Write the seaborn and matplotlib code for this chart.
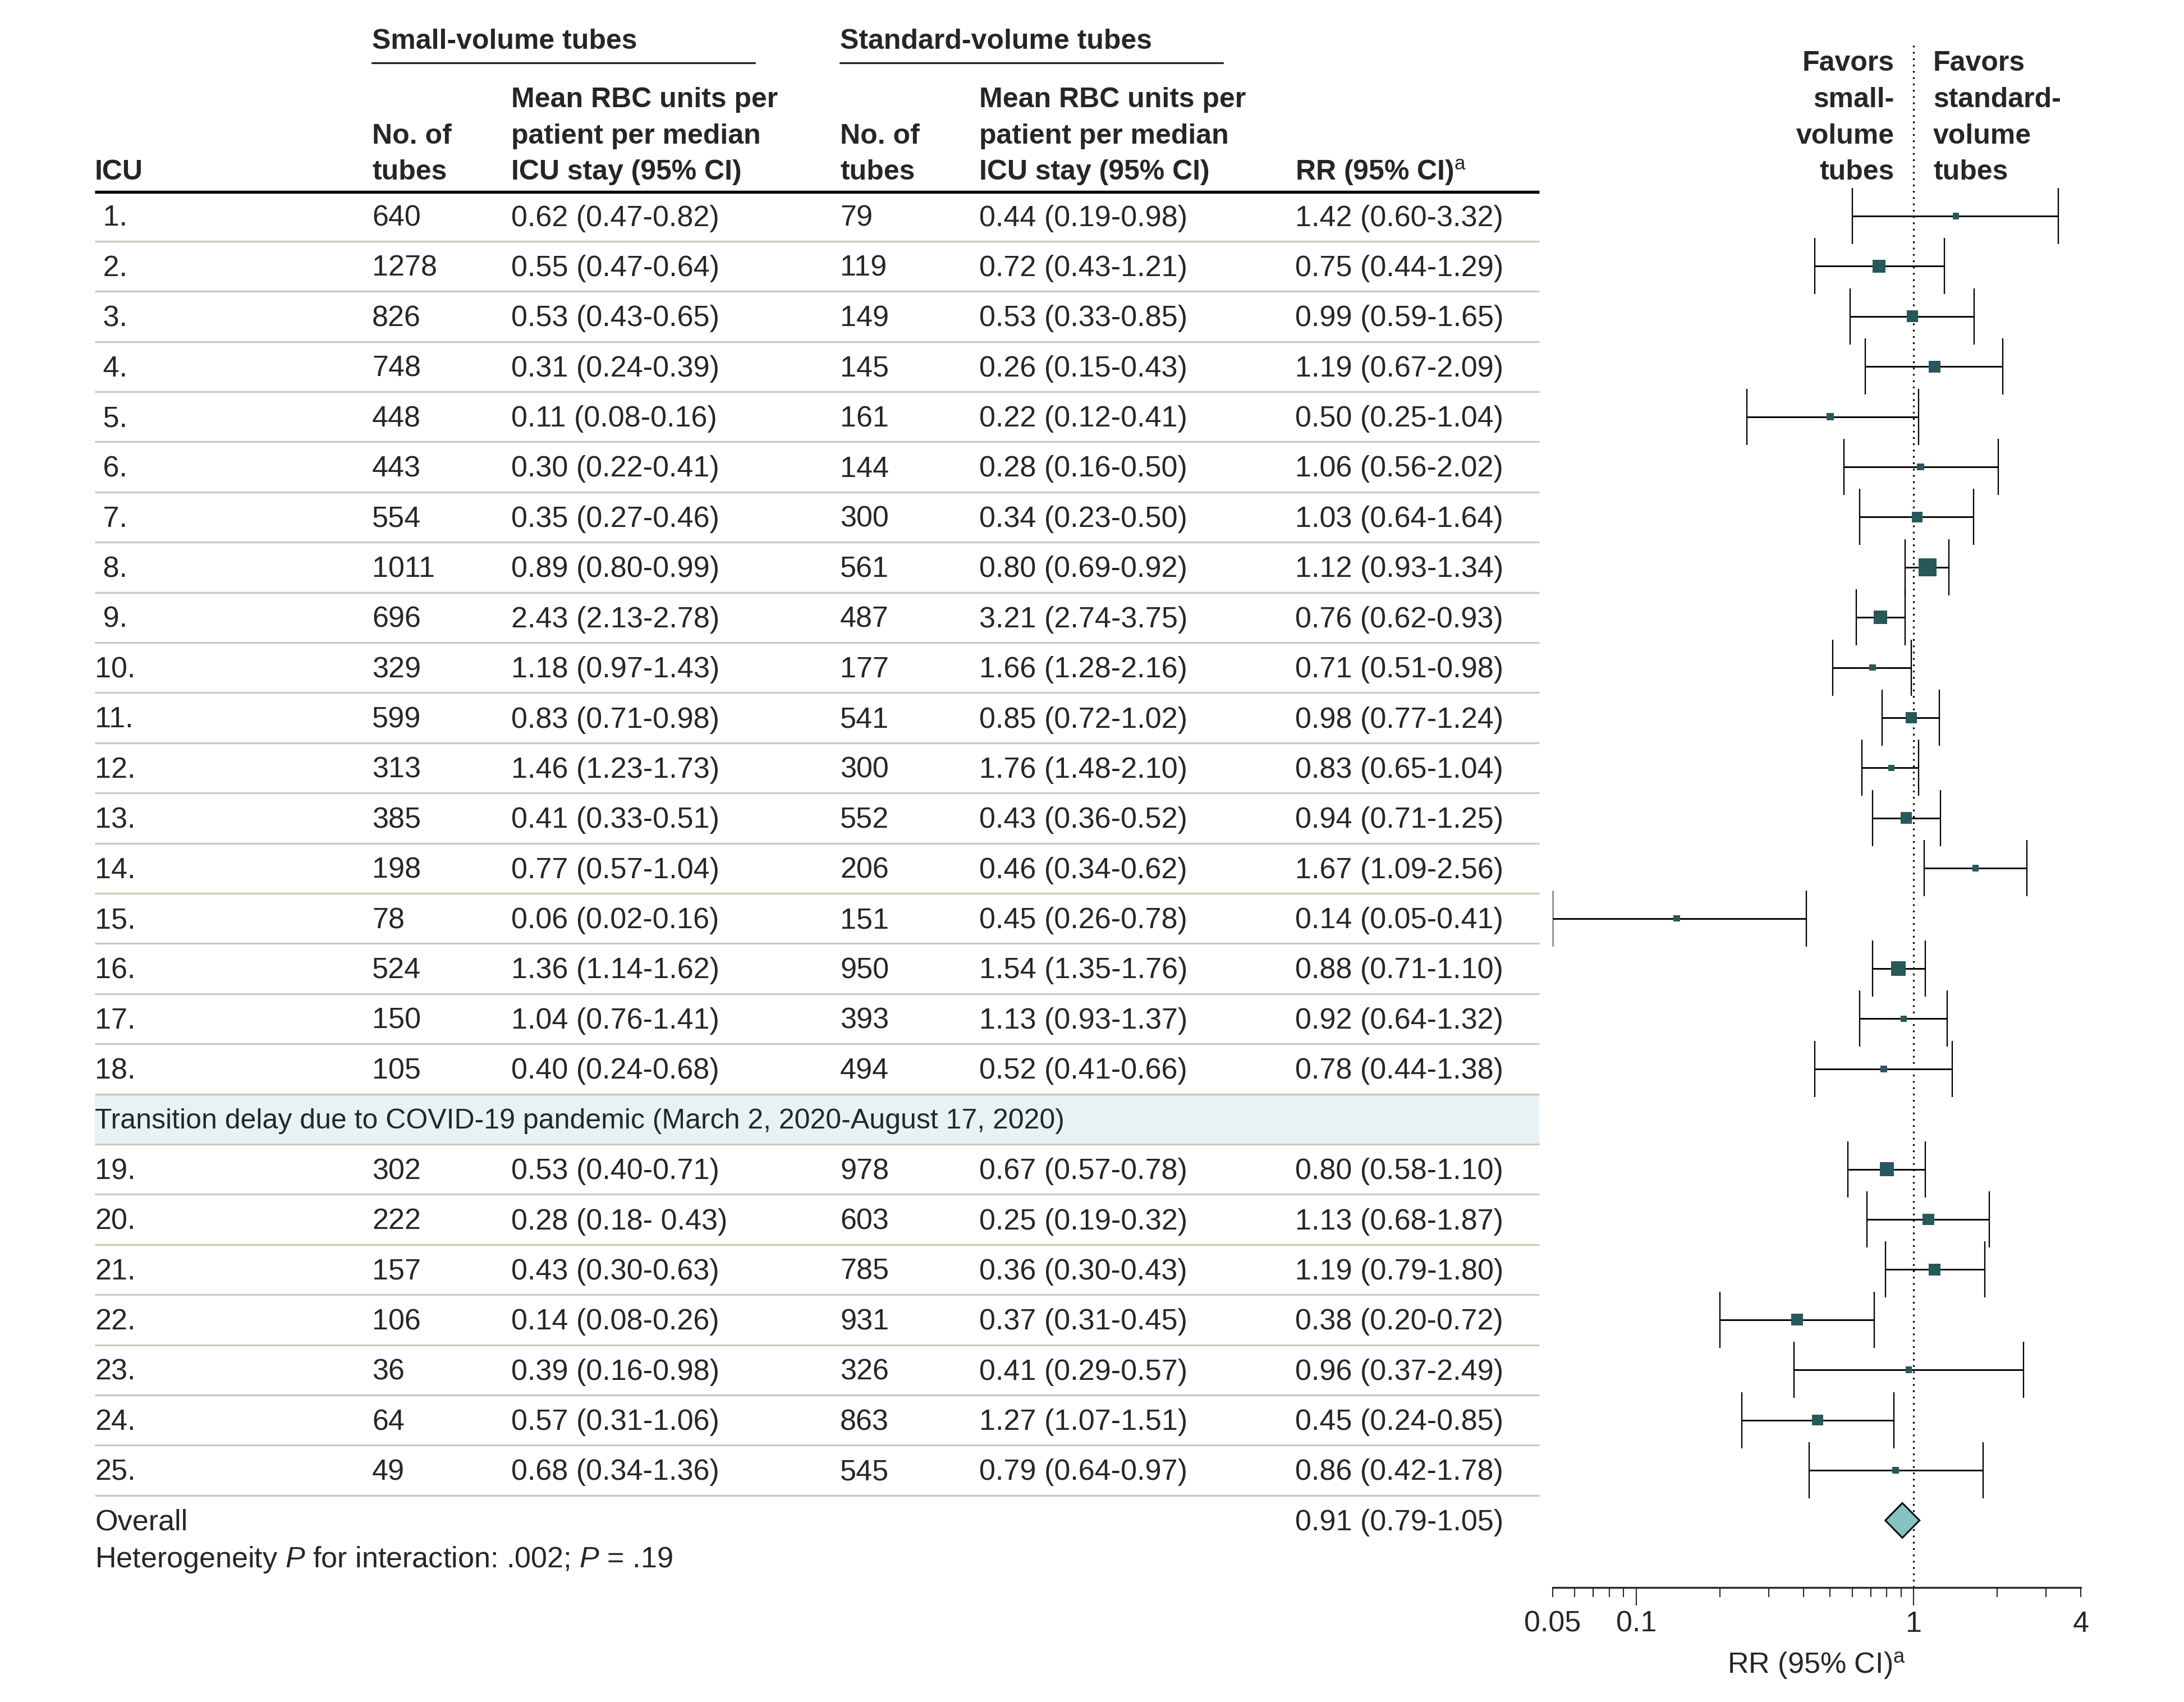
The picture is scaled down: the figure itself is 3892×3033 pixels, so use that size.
import numpy as np
import seaborn as sns
import matplotlib.pyplot as plt
from matplotlib.ticker import FixedLocator, FixedFormatter

# ---- data ----
icu = list(range(1, 26))
small_n = [640, 1278, 826, 748, 448, 443, 554, 1011, 696, 329, 599, 313, 385,
           198, 78, 524, 150, 105, 302, 222, 157, 106, 36, 64, 49]
small_mean = ["0.62 (0.47-0.82)", "0.55 (0.47-0.64)", "0.53 (0.43-0.65)",
              "0.31 (0.24-0.39)", "0.11 (0.08-0.16)", "0.30 (0.22-0.41)",
              "0.35 (0.27-0.46)", "0.89 (0.80-0.99)", "2.43 (2.13-2.78)",
              "1.18 (0.97-1.43)", "0.83 (0.71-0.98)", "1.46 (1.23-1.73)",
              "0.41 (0.33-0.51)", "0.77 (0.57-1.04)", "0.06 (0.02-0.16)",
              "1.36 (1.14-1.62)", "1.04 (0.76-1.41)", "0.40 (0.24-0.68)",
              "0.53 (0.40-0.71)", "0.28 (0.18- 0.43)", "0.43 (0.30-0.63)",
              "0.14 (0.08-0.26)", "0.39 (0.16-0.98)", "0.57 (0.31-1.06)",
              "0.68 (0.34-1.36)"]
std_n = [79, 119, 149, 145, 161, 144, 300, 561, 487, 177, 541, 300, 552,
         206, 151, 950, 393, 494, 978, 603, 785, 931, 326, 863, 545]
std_mean = ["0.44 (0.19-0.98)", "0.72 (0.43-1.21)", "0.53 (0.33-0.85)",
            "0.26 (0.15-0.43)", "0.22 (0.12-0.41)", "0.28 (0.16-0.50)",
            "0.34 (0.23-0.50)", "0.80 (0.69-0.92)", "3.21 (2.74-3.75)",
            "1.66 (1.28-2.16)", "0.85 (0.72-1.02)", "1.76 (1.48-2.10)",
            "0.43 (0.36-0.52)", "0.46 (0.34-0.62)", "0.45 (0.26-0.78)",
            "1.54 (1.35-1.76)", "1.13 (0.93-1.37)", "0.52 (0.41-0.66)",
            "0.67 (0.57-0.78)", "0.25 (0.19-0.32)", "0.36 (0.30-0.43)",
            "0.37 (0.31-0.45)", "0.41 (0.29-0.57)", "1.27 (1.07-1.51)",
            "0.79 (0.64-0.97)"]
rr = np.array([1.42, 0.75, 0.99, 1.19, 0.50, 1.06, 1.03, 1.12, 0.76, 0.71,
               0.98, 0.83, 0.94, 1.67, 0.14, 0.88, 0.92, 0.78, 0.80, 1.13,
               1.19, 0.38, 0.96, 0.45, 0.86])
rr_lo = np.array([0.60, 0.44, 0.59, 0.67, 0.25, 0.56, 0.64, 0.93, 0.62, 0.51,
                  0.77, 0.65, 0.71, 1.09, 0.05, 0.71, 0.64, 0.44, 0.58, 0.68,
                  0.79, 0.20, 0.37, 0.24, 0.42])
rr_hi = np.array([3.32, 1.29, 1.65, 2.09, 1.04, 2.02, 1.64, 1.34, 0.93, 0.98,
                  1.24, 1.04, 1.25, 2.56, 0.41, 1.10, 1.32, 1.38, 1.10, 1.87,
                  1.80, 0.72, 2.49, 0.85, 1.78])
# relative study weight (marker side as seen in the figure)
weight = np.array([10, 20, 18, 18, 11, 11, 17, 28, 21, 10, 18, 10, 18, 10, 10,
                   22, 10, 10, 22, 18, 18, 18, 10, 17, 10])
overall = (0.91, 0.79, 1.05)
section_label = "Transition delay due to COVID-19 pandemic (March 2, 2020-August 17, 2020)"
section_after = 18
x_ticks_major = [0.1, 1]
x_ticks_minor = [0.05, 0.06, 0.07, 0.08, 0.09, 0.2, 0.3, 0.4, 0.5, 0.6, 0.7,
                 0.8, 0.9, 2, 3, 4]
minor_labels = {0.05: "0.05", 4: "4"}

# ---- style ----
sns.set_style("white")
plt.rcParams["font.family"] = ["Liberation Sans", "DejaVu Sans"]
plt.rcParams["mathtext.fontset"] = "custom"
plt.rcParams["mathtext.rm"] = "Liberation Sans"
plt.rcParams["mathtext.it"] = "Liberation Sans:italic"
plt.rcParams["mathtext.bf"] = "Liberation Sans:bold"
FS = 12.5
HFS = 12
teal = "#27585a"
sep_col = "#c8cbbe"
band_col = "#e6f2f4"

W, H, DPI = 3892, 3033, 300
fig = plt.figure(figsize=(W / DPI, H / DPI), dpi=DPI)

# table layer in pixel coordinates
tab = fig.add_axes([0, 0, 1, 1])
tab.set_xlim(0, W)
tab.set_ylim(H, 0)
tab.axis("off")

y0, pitch = 385, 89.4
dy = 4  # text sits a touch lower than the row centre
x_left, x_right = 169, 2743
col_x = [169, 663, 911, 1497, 1745, 2308]

# slot index for each ICU (the section row takes one slot)
slots = np.array([i if i < section_after else i + 1 for i in range(len(icu))])
overall_slot = slots[-1] + 1


def ypix(s):
    return y0 + s * pitch


# header
hdr = dict(fontsize=HFS, fontweight="bold", va="center", ha="left")
tab.text(col_x[1], 70 + dy, "Small-volume tubes", **hdr)
tab.text(col_x[3], 70 + dy, "Standard-volume tubes", **hdr)
tab.plot([663, 1345], [112, 112], color="#222222", lw=0.8)
tab.plot([1497, 2179], [112, 112], color="#222222", lw=0.8)
line_y = [174, 238.5, 303]
headers = [(col_x[0], ["ICU"]),
           (col_x[1], ["No. of", "tubes"]),
           (col_x[2], ["Mean RBC units per", "patient per median", "ICU stay (95% CI)"]),
           (col_x[3], ["No. of", "tubes"]),
           (col_x[4], ["Mean RBC units per", "patient per median", "ICU stay (95% CI)"]),
           (col_x[5], ["RR (95% CI)$^{\\mathrm{a}}$"])]
for x, lines in headers:
    for k, s in enumerate(lines):
        tab.text(x, line_y[len(line_y) - len(lines) + k] + dy, s, **hdr)
tab.plot([x_left, x_right], [342, 342], color="black", lw=1.3, solid_capstyle="butt")

# section band
tab.fill_between([x_left, x_right], ypix(section_after - 0.5), ypix(section_after + 0.5),
                 color=band_col, lw=0)
tab.text(col_x[0], ypix(section_after) + dy, section_label, fontsize=FS - 0.5, va="center")

# separators
for s in range(overall_slot):
    tab.plot([x_left, x_right], [ypix(s + 0.5)] * 2, color=sep_col, lw=0.8,
             solid_capstyle="butt")

# rows
txt = dict(fontsize=FS, va="center", ha="left")
for i in range(len(icu)):
    y = ypix(slots[i]) + dy
    lab = f"{icu[i]}." if icu[i] >= 10 else f" {icu[i]}."
    tab.text(col_x[0], y, lab, **txt)
    tab.text(col_x[1], y, str(small_n[i]), **txt)
    tab.text(col_x[2], y, small_mean[i], **txt)
    tab.text(col_x[3], y, str(std_n[i]), **txt)
    tab.text(col_x[4], y, std_mean[i], **txt)
    tab.text(col_x[5], y, f"{rr[i]:.2f} ({rr_lo[i]:.2f}-{rr_hi[i]:.2f})", **txt)

tab.text(col_x[0], ypix(overall_slot) + dy, "Overall", **txt)
tab.text(col_x[5], ypix(overall_slot) + dy,
         f"{overall[0]:.2f} ({overall[1]:.2f}-{overall[2]:.2f})", **txt)
tab.text(col_x[0], 2775 + dy, "Heterogeneity $P$ for interaction: .002; $P$ = .19", **txt)

# favors labels
fav_y = [109, 174, 238.5, 303]
for k, s in enumerate(["Favors", "small-", "volume", "tubes"]):
    tab.text(3376, fav_y[k] + dy, s, fontsize=HFS, fontweight="bold", va="center", ha="right")
for k, s in enumerate(["Favors", "standard-", "volume", "tubes"]):
    tab.text(3445, fav_y[k] + dy, s, fontsize=HFS, fontweight="bold", va="center", ha="left")

# ---- forest plot ----
ax_l, ax_r = 2767, 3708
ax_top, ax_bot = 74, 2829
ax = fig.add_axes([ax_l / W, 1 - ax_bot / H, (ax_r - ax_l) / W, (ax_bot - ax_top) / H])
ax.patch.set_alpha(0)
ax.set_xscale("log")
ax.set_xlim(0.05, 4)
ax.set_ylim((ax_bot - y0) / pitch, (ax_top - y0) / pitch)

ax.axvline(1, color="black", lw=0.75, ls=(0, (1.0, 2.6)), zorder=1)
ax.errorbar(rr, slots, xerr=[rr - rr_lo, rr_hi - rr], fmt="none", ecolor="black",
            elinewidth=0.7, capsize=12, capthick=0.55, zorder=2)
area = (weight * 1.15 * 72 / DPI) ** 2
sns.scatterplot(x=rr, y=slots, size=area, sizes=(area.min(), area.max()),
                marker="s", color=teal, edgecolor="none", legend=False, ax=ax, zorder=3)
d = 31 / pitch
est, lo, hi = overall
ax.fill([lo, est, hi, est], [overall_slot, overall_slot - d, overall_slot, overall_slot + d],
        facecolor="#86c2c1", edgecolor="black", lw=0.7, zorder=3)

for sp in ["top", "left", "right"]:
    ax.spines[sp].set_visible(False)
ax.spines["bottom"].set_linewidth(0.8)
ax.set_yticks([])
ax.xaxis.set_major_locator(FixedLocator(x_ticks_major))
ax.xaxis.set_major_formatter(FixedFormatter(["0.1", "1"]))
ax.xaxis.set_minor_locator(FixedLocator(x_ticks_minor))
ax.xaxis.set_minor_formatter(FixedFormatter([minor_labels.get(v, "") for v in x_ticks_minor]))
ax.tick_params(axis="x", which="major", direction="out", length=7.6, width=0.5,
               pad=2.2, labelsize=FS, bottom=True)
ax.tick_params(axis="x", which="minor", direction="out", length=4.0, width=0.5,
               pad=5.8, labelsize=FS, bottom=True)
ax.set_xlabel("RR (95% CI)$^{\\mathrm{a}}$", fontsize=FS, labelpad=5.5)

fig.savefig("out.png", dpi=DPI)
